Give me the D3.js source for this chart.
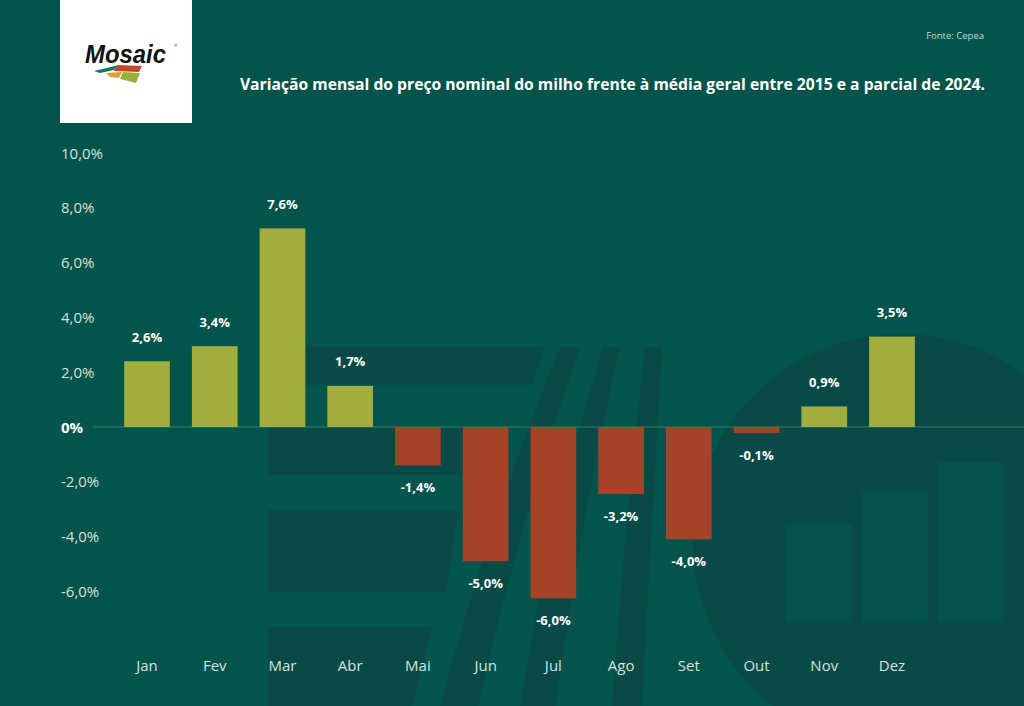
<!DOCTYPE html>
<html>
<head>
<meta charset="utf-8">
<script src="https://cdn.jsdelivr.net/npm/d3@7"></script>
<style>
  html, body { margin: 0; padding: 0; background: #03544b; }
  svg { display: block; font-family: "Open Sans", "Noto Sans", sans-serif; }
</style>
</head>
<body>
<svg id="chart" width="1024" height="706"></svg>
<script>
// ---- data ----
const months = ["Jan", "Fev", "Mar", "Abr", "Mai", "Jun", "Jul", "Ago", "Set", "Out", "Nov", "Dez"];
const barValues = [2.4, 2.95, 7.25, 1.5, -1.4, -4.9, -6.25, -2.45, -4.1, -0.22, 0.75, 3.3];
const valueLabels = ["2,6%", "3,4%", "7,6%", "1,7%", "-1,4%", "-5,0%", "-6,0%", "-3,2%", "-4,0%", "-0,1%", "0,9%", "3,5%"];
const yTicks = [10, 8, 6, 4, 2, 0, -2, -4, -6];
const yTickLabels = ["10,0%", "8,0%", "6,0%", "4,0%", "2,0%", "0%", "-2,0%", "-4,0%", "-6,0%"];
const title = "Variação mensal do preço nominal do milho frente à média geral entre 2015 e a parcial de 2024.";
const source = "Fonte: Cepea";

const svg = d3.select("#chart");
const W = 1024, H = 706;
const BG = "#03544b", DARK = "#0a4a46";

svg.append("rect").attr("width", W).attr("height", H).attr("fill", BG);

// ---- decorative background ----
const deco = svg.append("g");
const bands = [
  [[268,347],[545,347],[532,385],[268,385]],
  [[268,427],[470,427],[466,475],[268,475]],
  [[268,510],[458,510],[446,592],[268,592]],
  [[268,627],[432,627],[412,706],[268,706]]
];
bands.forEach(p => deco.append("path").attr("d", d3.line()(p) + "Z").attr("fill", DARK));
const stripes = [
  "M560,347 L580,347 Q520,520 478,706 L440,706 Q490,520 560,347 Z",
  "M603,347 L620,347 Q580,520 556,706 L520,706 Q550,520 603,347 Z",
  "M645,347 L662,347 Q652,520 642,706 L612,706 Q625,520 645,347 Z"
];
stripes.forEach(d => deco.append("path").attr("d", d).attr("fill", DARK));
deco.append("circle").attr("cx", 901).attr("cy", 542).attr("r", 208).attr("fill", DARK);
[[785,524,67,99],[862,491,66,132],[937,462,67,161]].forEach(r =>
  deco.append("rect").attr("x", r[0]).attr("y", r[1]).attr("width", r[2]).attr("height", r[3])
    .attr("rx", 3).attr("fill", "#04524a"));

// ---- scales ----
const x = d3.scaleBand().domain(months).range([113.15, 925.85]).paddingInner(0.325).paddingOuter(0.1625);
const y = d3.scaleLinear().domain([-6, 10]).range([591.4, 153]);

svg.append("line").attr("x1", 93).attr("x2", W).attr("y1", y(0)).attr("y2", y(0))
  .attr("stroke", "#3d7a72").attr("stroke-width", 1.2);

const yAxis = d3.axisLeft(y).tickValues(yTicks).tickSize(0)
  .tickFormat((d, i) => yTickLabels[i]);
const ya = svg.append("g").attr("transform", "translate(61,0)").call(yAxis);
ya.select(".domain").remove();
ya.selectAll("text")
  .attr("text-anchor", "start").attr("x", 0).attr("dy", "0.34em")
  .style("font-family", "'Open Sans'")
  .style("font-size", "15px")
  .style("font-weight", d => d === 0 ? 700 : 400)
  .attr("fill", d => d === 0 ? "#ffffff" : "#d3e2de");

svg.append("g").selectAll("rect").data(months).join("rect")
  .attr("x", d => x(d))
  .attr("width", x.bandwidth())
  .attr("y", (d, i) => y(Math.max(0, barValues[i])))
  .attr("height", (d, i) => Math.abs(y(barValues[i]) - y(0)))
  .attr("fill", (d, i) => barValues[i] >= 0 ? "#a1ad3c" : "#a44328");

svg.append("g").selectAll("text").data(months).join("text")
  .attr("x", d => x(d) + x.bandwidth() / 2)
  .attr("y", (d, i) => barValues[i] >= 0 ? y(barValues[i]) - 24 : y(barValues[i]) + 22)
  .attr("dy", "0.35em")
  .attr("text-anchor", "middle")
  .style("font-size", "13px").style("font-weight", 700)
  .attr("fill", "#ffffff")
  .text((d, i) => valueLabels[i]);

const xAxis = d3.axisBottom(x).tickSize(0);
const xa = svg.append("g").attr("transform", "translate(0,666)").call(xAxis);
xa.select(".domain").remove();
xa.selectAll("text").attr("y", 0).attr("dy", "0.35em")
  .style("font-family", "'Open Sans'").style("font-size", "15px")
  .attr("fill", "#d3e2de");

svg.append("text").attr("x", 985).attr("y", 90).attr("text-anchor", "end")
  .style("font-size", "15.7px").style("font-weight", 700).attr("fill", "#ffffff").text(title);
svg.append("text").attr("x", 984).attr("y", 39).attr("text-anchor", "end")
  .style("font-size", "9.5px").attr("fill", "#c9d8d4").text(source);

// ---- logo ----
const logo = svg.append("g");
logo.append("rect").attr("x", 60).attr("y", 0).attr("width", 132).attr("height", 123).attr("fill", "#ffffff");
logo.append("text").attr("x", 85).attr("y", 63)
  .attr("textLength", 81).attr("lengthAdjust", "spacingAndGlyphs")
  .style("font-family", "'Liberation Sans', Arial, sans-serif")
  .style("font-size", "26px").style("font-weight", 700).style("font-style", "italic")
  .attr("fill", "#111111").text("Mosaic");
logo.append("text").attr("x", 174).attr("y", 47).style("font-size", "4px").attr("fill", "#333").text("®");
const tiles = [
  [[[94,71],[119,65],[114,70],[100,73]], "#17766a"],
  [[[117,65],[142,66],[139,72],[114,71]], "#c0462c"],
  [[[106,73],[122,72],[119,78],[110,77]], "#d7a233"],
  [[[123,72],[140,73],[136,83],[120,79]], "#98b238"]
];
tiles.forEach(t => logo.append("path").attr("d", d3.line()(t[0]) + "Z").attr("fill", t[1]));
</script>
</body>
</html>
